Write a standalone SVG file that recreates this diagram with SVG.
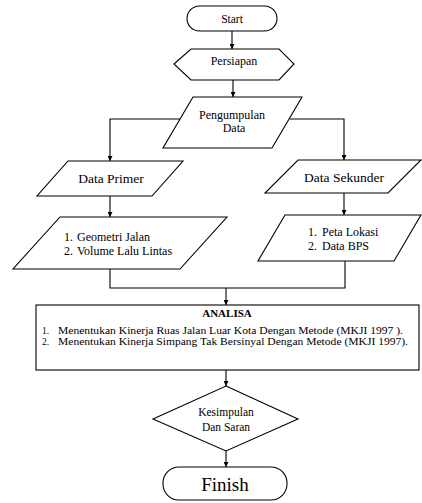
<svg xmlns="http://www.w3.org/2000/svg" width="422" height="503" viewBox="0 0 422 503">
<defs>
<marker id="ah" viewBox="0 0 8 8" refX="8" refY="4" markerWidth="5" markerHeight="5" orient="auto" markerUnits="userSpaceOnUse">
<path d="M0,0 L8,4 L0,8 z" fill="#000"/>
</marker>
<style>
.s{fill:#fff;stroke:#000;stroke-width:1.1}
.c{fill:none;stroke:#000;stroke-width:1.1}
.a{marker-end:url(#ah)}
.m{text-anchor:middle}
</style>
</defs>
<rect width="422" height="503" fill="#fff"/>
<g id="connectors">
<line class="c a" x1="232" y1="31" x2="232" y2="49"/>
<line class="c a" x1="233" y1="80" x2="233" y2="97"/>
<polyline class="c a" points="181,119 110,119 110,161"/>
<polyline class="c a" points="290,119 344,119 344,160"/>
<line class="c a" x1="110" y1="196" x2="110" y2="217"/>
<line class="c a" x1="344" y1="193" x2="344" y2="215"/>
<polyline class="c" points="110,269 110,288 345,288 345,261"/>
<line class="c a" x1="226" y1="288" x2="226" y2="305"/>
<line class="c a" x1="226" y1="370" x2="226" y2="386"/>
<line class="c a" x1="226" y1="451" x2="226" y2="467"/>
</g>
<g font-family="'Liberation Serif', 'DejaVu Serif', serif" fill="#000">
<g id="start">
<rect class="s" x="187" y="6" width="90" height="25" rx="12.5"/>
<text class="m" x="232" y="23" font-size="11.5">Start</text>
</g>
<g id="persiapan">
<polygon class="s" points="174,64 191,49 279,49 294,64 279,80 191,80"/>
<text class="m" x="234" y="65" font-size="12">Persiapan</text>
</g>
<g id="pengumpulan">
<polygon class="s" points="193,97 302,97 272,148 163,148"/>
<text class="m" x="232" y="119" font-size="12">Pengumpulan</text>
<text class="m" x="234" y="132" font-size="12">Data</text>
</g>
<g id="data-primer">
<polygon class="s" points="68,161 183,161 152,196 37,196"/>
<text class="m" x="111" y="183" font-size="13.5">Data Primer</text>
</g>
<g id="data-sekunder">
<polygon class="s" points="298,160 421,160 388,193 265,193"/>
<text class="m" x="344" y="182" font-size="13.5">Data Sekunder</text>
</g>
<g id="geometri">
<polygon class="s" points="60,217 227,217 180,269 13,269"/>
<text x="64" y="241" font-size="12">1.</text>
<text x="77" y="241" font-size="12">Geometri Jalan</text>
<text x="64" y="255" font-size="12">2.</text>
<text x="77" y="255" font-size="12">Volume Lalu Lintas</text>
</g>
<g id="peta">
<polygon class="s" points="285,215 421,215 394,261 258,261"/>
<text x="308" y="236" font-size="12">1.</text>
<text x="322" y="236" font-size="12">Peta Lokasi</text>
<text x="308" y="250" font-size="12">2.</text>
<text x="322" y="250" font-size="12">Data BPS</text>
</g>
<g id="analisa">
<rect class="s" x="36" y="305" width="383" height="65"/>
<text class="m" x="227" y="317" font-size="11" font-weight="bold">ANALISA</text>
<text x="42" y="334" font-size="9.5">1.</text>
<text x="58" y="334" font-size="9.5" textLength="345" lengthAdjust="spacingAndGlyphs">Menentukan Kinerja Ruas Jalan Luar Kota Dengan Metode (MKJI 1997 ).</text>
<text x="42" y="345" font-size="9.5">2.</text>
<text x="58" y="345" font-size="9.5" textLength="350" lengthAdjust="spacingAndGlyphs">Menentukan Kinerja Simpang Tak Bersinyal Dengan Metode (MKJI 1997).</text>
</g>
<g id="kesimpulan">
<polygon class="s" points="226,386 298,419 226,451 153,419"/>
<text class="m" x="226" y="416" font-size="11.5">Kesimpulan</text>
<text class="m" x="226" y="431" font-size="11.5">Dan Saran</text>
</g>
<g id="finish">
<rect class="s" x="163" y="467" width="124" height="33" rx="16"/>
<text class="m" x="225" y="491" font-size="19">Finish</text>
</g>
</g>
</svg>
